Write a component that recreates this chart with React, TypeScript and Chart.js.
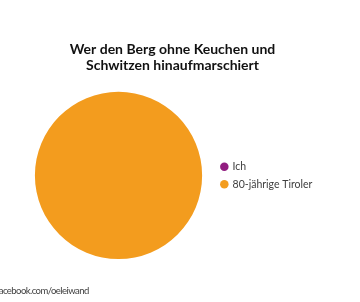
import React, { useEffect, useRef } from "react";
import { Chart, registerables } from "chart.js";

Chart.register(...registerables);

const titleLines: string[] = ["Wer den Berg ohne Keuchen und", "Schwitzen hinaufmarschiert"];
const categories: string[] = ["Ich", "80-jährige Tiroler"];
const values: number[] = [0, 100];
const colors: string[] = ["#911D80", "#F39C1E"];
const footerText = "facebook.com/oeleiwand";

export default function App() {
  const canvasRef = useRef<HTMLCanvasElement | null>(null);

  useEffect(() => {
    const canvas = canvasRef.current;
    if (!canvas) return;
    const chart = new Chart(canvas, {
      type: "pie",
      data: {
        labels: categories,
        datasets: [
          {
            data: values,
            backgroundColor: colors,
            borderWidth: 0,
          },
        ],
      },
      options: {
        animation: false,
        responsive: false,
        devicePixelRatio: 1,
        layout: { padding: { left: 22.7, right: 37.7, top: 0, bottom: 43 } },
        plugins: {
          tooltip: { enabled: false },
          title: {
            display: true,
            text: titleLines,
            color: "#111111",
            font: { family: "Lato", size: 14, weight: "bold", lineHeight: 1.18 },
            padding: { top: 40.75, bottom: 18 },
          },
          legend: {
            position: "right",
            fullSize: false,
            labels: {
              usePointStyle: true,
              pointStyle: "circle",
              boxWidth: 6,
              boxHeight: 6,
              padding: 7,
              color: "#404040",
              font: { family: "Lato", size: 10.5 },
            },
          },
        },
      },
    });
    return () => chart.destroy();
  }, []);

  return (
    <div style={{ position: "absolute", left: 0, top: 0, width: 360, height: 302, overflow: "hidden", background: "#fff" }}>
      <canvas ref={canvasRef} width={360} height={302} style={{ position: "absolute", left: 0, top: 0 }} />
      <div
        style={{
          position: "absolute",
          left: -4,
          top: 284.5,
          fontFamily: "Lato",
          fontSize: 9.5,
          letterSpacing: "-0.55px",
          lineHeight: "12px",
          color: "#404040",
          whiteSpace: "nowrap",
        }}
      >
        {footerText}
      </div>
    </div>
  );
}
